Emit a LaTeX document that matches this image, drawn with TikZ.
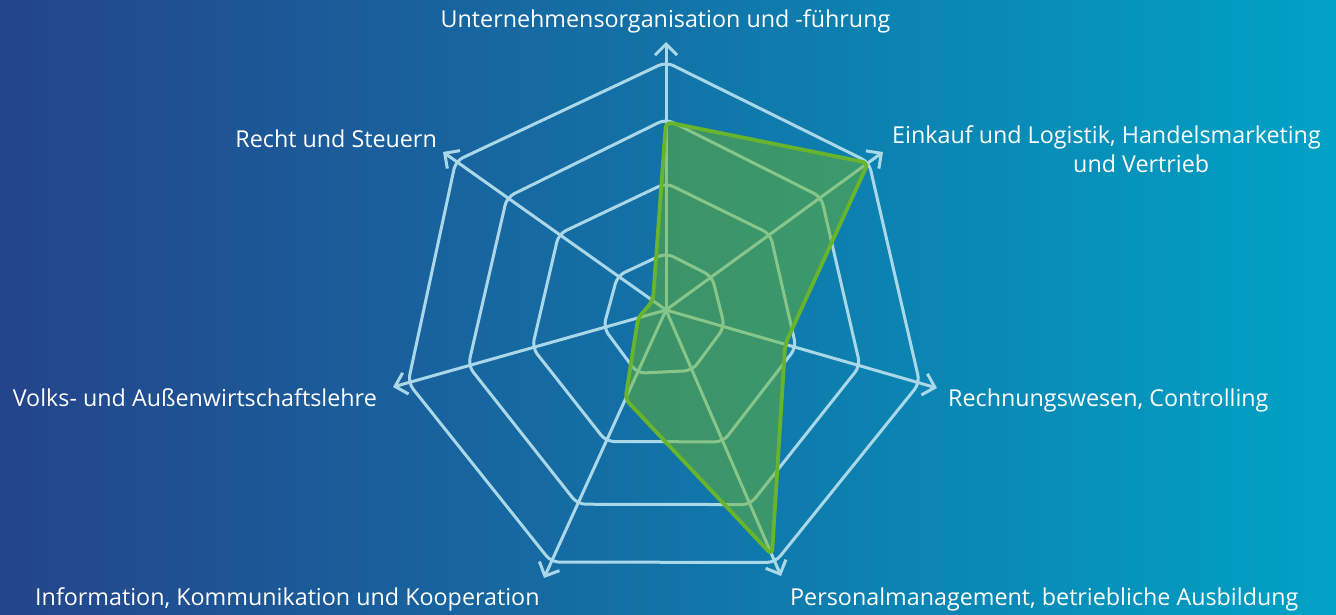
\documentclass[tikz,border=0pt]{standalone}
\usepackage{fontspec}
\setmainfont{Open Sans}
\usetikzlibrary{calc,arrows.meta}
\definecolor{bgleft}{RGB}{36,68,138}
\definecolor{bgright}{RGB}{0,162,197}
\definecolor{gridblue}{RGB}{170,216,232}
\definecolor{datagreen}{RGB}{104,180,44}
\begin{document}
\begin{tikzpicture}[x=1pt,y=-1pt,
  ring/.style={draw=gridblue,line width=3pt,rounded corners=8pt,line join=round},
  spoke/.style={draw=gridblue,line width=3pt,-{Straight Barb[length=11pt,width=22pt]}},
  lbl/.style={text=white,inner sep=0pt,font=\fontsize{23.3}{29}\selectfont},
  data/.style={draw=datagreen,fill=datagreen,fill opacity=0.5,draw opacity=1,line width=3.8pt,rounded corners=6pt,line join=round}]
\useasboundingbox (0,0) rectangle (1336,615);
\shade[left color=bgleft,right color=bgright] (0,0) rectangle (1336,615);
% centre and arrow tips
\coordinate (C) at (666,310);
\coordinate (T0) at (666,42);
\coordinate (T1) at (883,152);
\coordinate (T2) at (937,388);
\coordinate (T3) at (781,576);
\coordinate (T4) at (544,578);
\coordinate (T5) at (393,387);
\coordinate (T6) at (443,152);
% rings
\foreach \a/\b/\c/\d/\e/\f/\g in {57/57/61/66/69.5/65/59.4, 127/129/135.4/143.7/144.5/139/131.5, 191/192/202/212/213.4/205.5/195, 248/251/264/275/277/268/257.7} {
  \draw[ring] ($(C)!\a pt!(T0)$) -- ($(C)!\b pt!(T1)$) -- ($(C)!\c pt!(T2)$) -- ($(C)!\d pt!(T3)$) -- ($(C)!\e pt!(T4)$) -- ($(C)!\f pt!(T5)$) -- ($(C)!\g pt!(T6)$) -- cycle;
}
% spokes
\foreach \i in {0,...,6} { \draw[spoke] (C) -- (T\i); }
% data polygon
\draw[data] ($(C)!188pt!(T0)$) -- ($(C)!250pt!(T1)$) -- ($(C)!124pt!(T2)$) -- ($(C)!267pt!(T3)$) -- ($(C)!98pt!(T4)$) -- ($(C)!29pt!(T5)$) -- ($(C)!16pt!(T6)$) -- cycle;
% labels
\node[lbl,anchor=base] (l0) at (665.5,28) {Unternehmensorganisation und -führung};
\node[lbl,anchor=base west] (l1) at (892,143) {Einkauf und Logistik, Handelsmarketing};
\node[lbl,anchor=base west] (l1b) at (1073,172) {und Vertrieb};
\node[lbl,anchor=base west] (l2) at (948,406) {Rechnungswesen, Controlling};
\node[lbl,anchor=base west] (l3) at (790,605) {Personalmanagement, betriebliche Ausbildung};
\node[lbl,anchor=base west] (l4) at (35,605) {Information, Kommunikation und Kooperation};
\node[lbl,anchor=base east] (l5) at (377,406) {Volks- und Außenwirtschaftslehre};
\node[lbl,anchor=base east] (l6) at (437,148) {Recht und Steuern};
\end{tikzpicture}
\end{document}
